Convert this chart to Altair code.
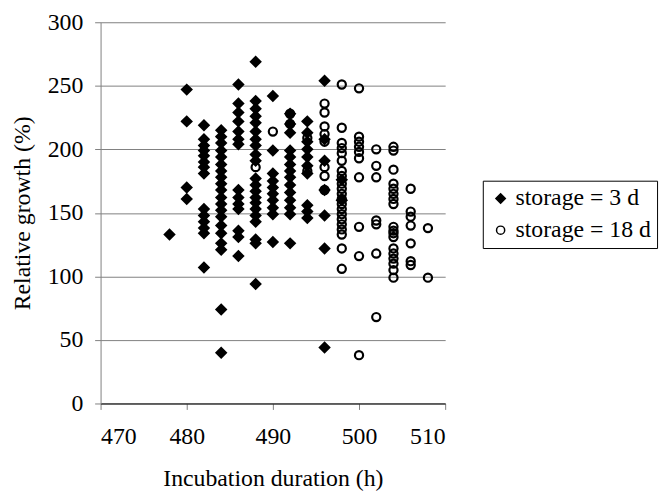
import altair as alt
import pandas as pd

# Relative growth (%) per incubation duration (h), storage = 3 d
g3_478 = [133]
g3_480 = [247, 222, 170, 161]
g3_482 = [219, 208, 203, 199, 195, 190, 186, 181, 153, 148, 143, 138, 134, 107]
g3_484 = [215, 210, 205, 199, 194, 188, 183, 178, 173, 168, 162, 157, 152, 147, 140, 134, 126, 121, 74, 40]
g3_486 = [251, 236, 229, 222, 214, 208, 204, 168, 162, 157, 153, 136, 131, 116]
g3_488 = [269, 238, 232, 226, 221, 214, 208, 203, 196, 191, 177, 172, 167, 162, 158, 153, 148, 143, 129, 126, 94]
g3_490 = [242, 199, 181, 175, 170, 165, 160, 154, 149, 127]
g3_492 = [228, 220, 213, 199, 194, 188, 183, 178, 172, 166, 160, 154, 149, 126]
g3_494 = [222, 213, 206, 200, 194, 187, 181, 156, 151, 146]
g3_496 = [254, 208, 191, 168, 148, 122, 44]
g3_498 = [176, 160]

# storage = 18 d
g18_488 = [186]
g18_490 = [214]
g18_492 = [228, 220]
g18_494 = [209, 183]
g18_496 = [236, 229, 218, 212, 206, 186, 179, 168]
g18_498 = [251, 217, 205, 201, 197, 191, 183, 179, 173, 169, 165, 161, 157, 153, 149, 145, 141, 137, 133, 122, 106]
g18_500 = [248, 210, 206, 202, 198, 193, 178, 139, 116, 38]
g18_502 = [200, 187, 178, 144, 141, 118, 68]
g18_504 = [202, 199, 184, 173, 169, 165, 161, 157, 139, 136, 134, 131, 122, 118, 114, 110, 105, 99]
g18_506 = [169, 151, 147, 140, 126, 112, 109]
g18_508 = [138, 99]

series_labels = ["storage = 3 d", "storage = 18 d"]

cols3 = {478: g3_478, 480: g3_480, 482: g3_482, 484: g3_484, 486: g3_486, 488: g3_488,
         490: g3_490, 492: g3_492, 494: g3_494, 496: g3_496, 498: g3_498}
cols18 = {488: g18_488, 490: g18_490, 492: g18_492, 494: g18_494, 496: g18_496, 498: g18_498,
          500: g18_500, 502: g18_502, 504: g18_504, 506: g18_506, 508: g18_508}

rows = []
for label, cols in zip(series_labels, [cols3, cols18]):
    for h, vals in cols.items():
        for v in vals:
            rows.append({"hours": h, "growth": v, "storage": label})
df = pd.DataFrame(rows)
df["order"] = range(len(df))

FONT = "Liberation Serif"
FS = 24

leg = alt.Legend(title=None, symbolStrokeColor="black", symbolStrokeWidth=1.5)

chart = alt.Chart(df).mark_point(strokeWidth=2.2, opacity=1, filled=False).encode(
    x=alt.X("hours:Q", title="Incubation duration (h)",
            scale=alt.Scale(domain=[470, 510], nice=False, zero=False),
            axis=alt.Axis(values=[470, 480, 490, 500, 510], grid=False, domainColor="black",
                          tickColor="#808080", tickSize=6, labelPadding=15, titlePadding=19)),
    y=alt.Y("growth:Q", title="Relative growth (%)",
            scale=alt.Scale(domain=[0, 300], nice=False),
            axis=alt.Axis(values=[0, 50, 100, 150, 200, 250, 300], grid=True, gridColor="#808080",
                          gridOpacity=1, domainColor="#808080", tickColor="#808080",
                          tickSize=6, labelPadding=12, titlePadding=13)),
    color=alt.Color("storage:N", legend=leg,
                    scale=alt.Scale(domain=series_labels, range=["black", "black"])),
    shape=alt.Shape("storage:N", legend=leg,
                    scale=alt.Scale(domain=series_labels, range=["diamond", "circle"])),
    fill=alt.Fill("storage:N", legend=leg,
                  scale=alt.Scale(domain=series_labels, range=["black", "transparent"])),
    size=alt.Size("storage:N", legend=leg,
                  scale=alt.Scale(domain=series_labels, range=[90, 68])),
    order=alt.Order("order:Q"),
).properties(
    width=348, height=385,
    autosize=alt.AutoSizeParams(type="none"),
    padding={"left": 93.5, "top": 12, "right": 220, "bottom": 88},
).configure_view(stroke=None).configure_axis(
    labelFont=FONT, titleFont=FONT, labelFontSize=FS, titleFontSize=FS,
    labelColor="black", titleColor="black", titleFontWeight="normal",
).configure_legend(
    orient="none", legendX=386, legendY=160,
    labelFont=FONT, labelFontSize=FS, labelColor="black",
    strokeColor="black", strokeWidth=1, padding=6, rowPadding=8,
    labelOffset=3,
)

chart.save("out.html", embed_options={"renderer": "svg", "actions": False})
